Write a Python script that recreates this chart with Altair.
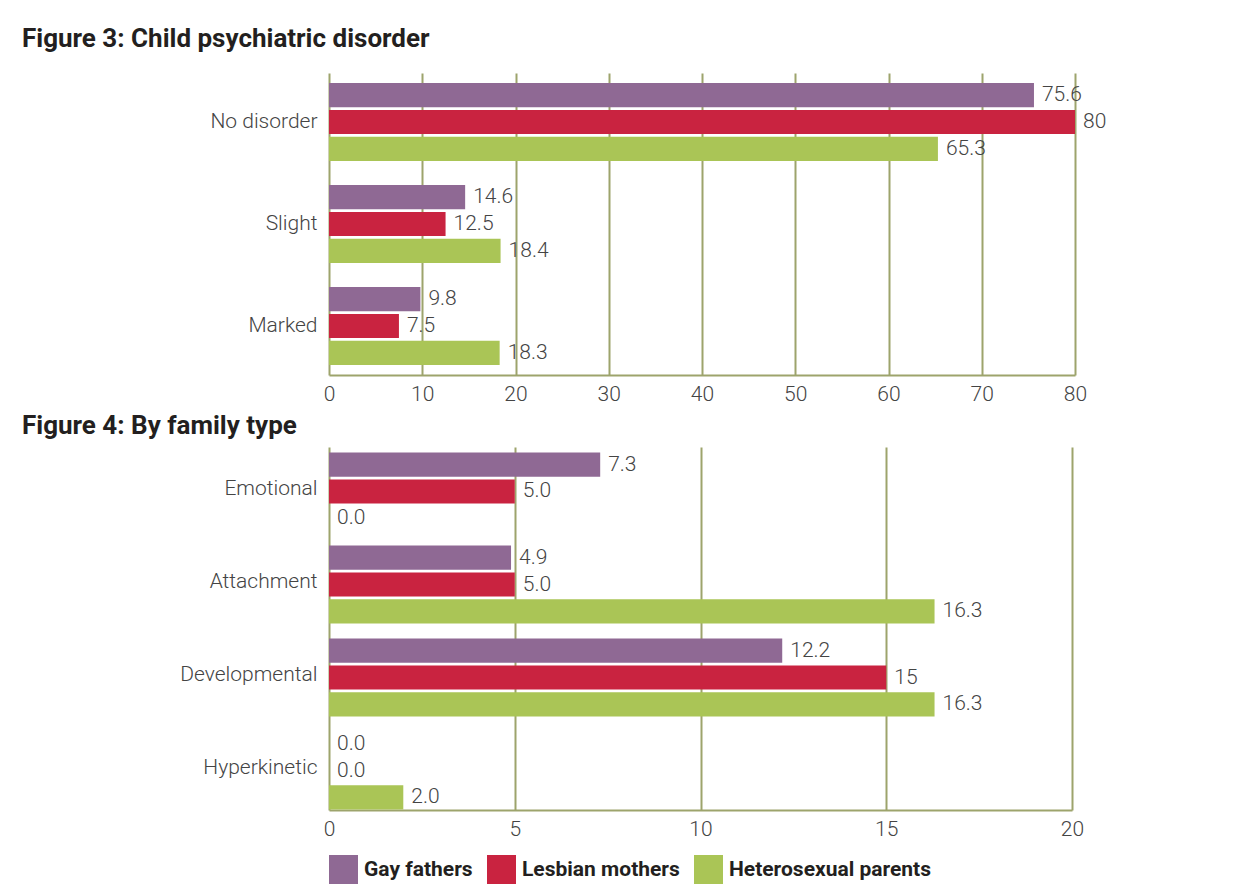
import altair as alt
import pandas as pd

series = ["Gay fathers", "Lesbian mothers", "Heterosexual parents"]
colors = ["#8f6994", "#c92340", "#aac556"]

cats1 = ["No disorder", "Slight", "Marked"]
gay1 = [75.6, 14.6, 9.8]
les1 = [80, 12.5, 7.5]
het1 = [65.3, 18.4, 18.3]
lab_gay1 = ["75.6", "14.6", "9.8"]
lab_les1 = ["80", "12.5", "7.5"]
lab_het1 = ["65.3", "18.4", "18.3"]

cats2 = ["Emotional", "Attachment", "Developmental", "Hyperkinetic"]
gay2 = [7.3, 4.9, 12.2, 0.0]
les2 = [5.0, 5.0, 15, 0.0]
het2 = [0.0, 16.3, 16.3, 2.0]
lab_gay2 = ["7.3", "4.9", "12.2", "0.0"]
lab_les2 = ["5.0", "5.0", "15", "0.0"]
lab_het2 = ["0.0", "16.3", "16.3", "2.0"]

ticks1 = [0, 10, 20, 30, 40, 50, 60, 70, 80]
ticks2 = [0, 5, 10, 15, 20]


def build(cats, vals, labs):
    rows = []
    for s, v, l in zip(series, vals, labs):
        for c, vv, ll in zip(cats, v, l):
            rows.append({"category": c, "series": s, "value": vv, "label": ll})
    return pd.DataFrame(rows)


df1 = build(cats1, [gay1, les1, het1], [lab_gay1, lab_les1, lab_het1])
df2 = build(cats2, [gay2, les2, het2], [lab_gay2, lab_les2, lab_het2])

FONT = "Roboto"
OLIVE = "#9da46c"
LABEL = "#444444"


def panel(df, cats, ticks, dmax, width, height, pi, po, title, toff):
    yenc = alt.Y(
        "category:N",
        sort=cats,
        title=None,
        scale=alt.Scale(paddingInner=pi, paddingOuter=po),
        axis=alt.Axis(domain=False, ticks=False, labelPadding=12,
                      labelFontSize=21, labelColor=LABEL, labelFont=FONT,
                      labelFontWeight=300),
    )
    yoff = alt.YOffset("series:N", sort=series,
                       scale=alt.Scale(paddingInner=0.1))
    xenc = alt.X(
        "value:Q",
        title=None,
        scale=alt.Scale(domain=[0, dmax], nice=False),
        axis=alt.Axis(values=ticks, grid=True, gridColor=OLIVE, gridWidth=2,
                      gridOpacity=1, domain=True, domainColor=OLIVE,
                      domainWidth=2, ticks=False, labelPadding=8,
                      labelFontSize=21, labelColor=LABEL, labelFont=FONT,
                      labelFontWeight=300, labelFlush=False),
    )
    base = alt.Chart(df).encode(y=yenc, yOffset=yoff)
    bars = base.mark_bar().encode(
        x=xenc,
        color=alt.Color(
            "series:N", sort=series,
            scale=alt.Scale(domain=series, range=colors),
            legend=alt.Legend(title=None, orient="bottom", direction="horizontal",
                              symbolType="square", symbolSize=841,
                              symbolStrokeWidth=0, labelFontSize=21,
                              labelFont=FONT, labelFontWeight="bold",
                              labelColor="#231f20", columnPadding=14,
                              labelOffset=6, offset=16, labelLimit=400),
        ),
    )
    text = base.mark_text(align="left", baseline="middle", dx=8, fontSize=21,
                          font=FONT, fontWeight=300, color=LABEL).encode(
        x=alt.X("value:Q"), text="label:N")
    return alt.layer(bars, text).properties(
        width=width, height=height,
        title=alt.TitleParams(title, anchor="start", frame="group",
                              dx=-307, font=FONT, fontSize=26,
                              fontWeight="bold", color="#231f20",
                              offset=toff),
    )


c1 = panel(df1, cats1, ticks1, 80, 746, 302, 0.235, 0.098,
           "Figure 3: Child psychiatric disorder", 21)
c2 = panel(df2, cats2, ticks2, 20, 743, 363, 0.215, 0.059,
           "Figure 4: By family type", 8)

chart = alt.vconcat(c1, c2, spacing=9).properties(
    padding={"left": 14, "top": 18, "right": 5, "bottom": 5}
).configure_view(stroke=None)

chart.save("out.html", embed_options={"renderer": "svg", "actions": False})
